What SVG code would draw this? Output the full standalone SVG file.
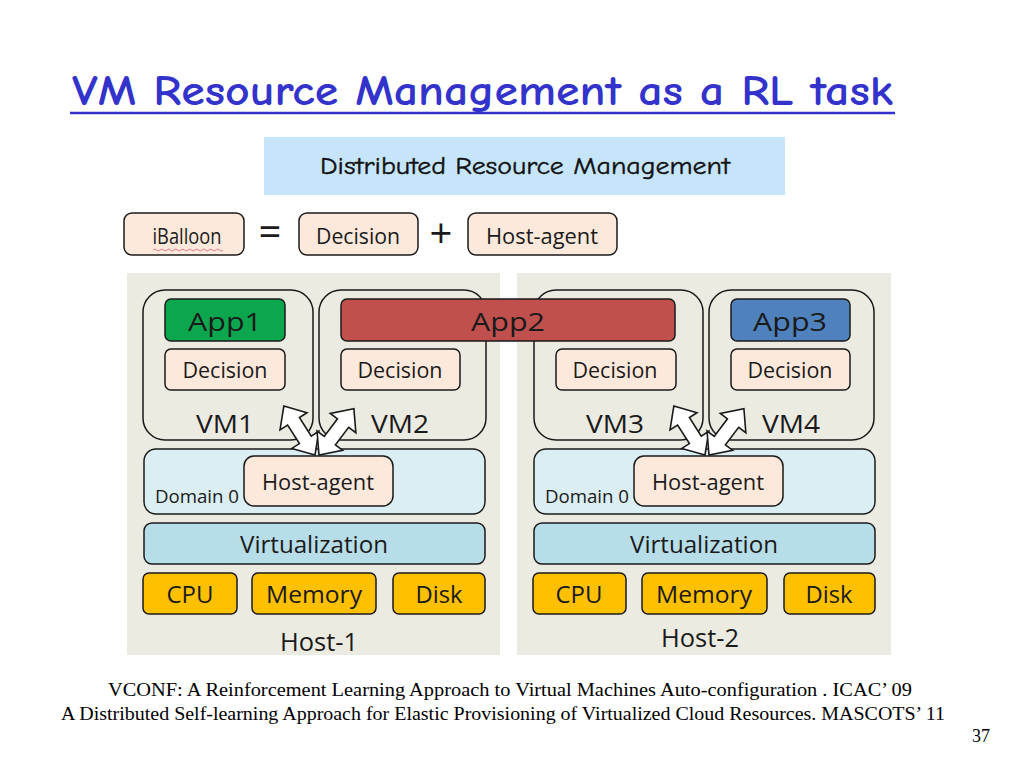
<svg xmlns="http://www.w3.org/2000/svg" width="1024" height="768" viewBox="0 0 1024 768">
<style>
.t{font-family:"Open Sans","Noto Sans","Liberation Sans",sans-serif;fill:#1a1a1a;text-anchor:middle}
.box{stroke:#1a1a1a;stroke-width:1.5}
.peach{fill:#fde9dc}
.vm{fill:none;stroke:#1a1a1a;stroke-width:1.5}
.host{fill:#ecebe2}
.dom{fill:#daeef3}
.virt{fill:#b7dde8}
.res{fill:#ffc000}
.arr{fill:#fff;stroke:#1a1a1a;stroke-width:1.6;stroke-linejoin:miter}
.ref{font-family:"Liberation Serif",serif;font-size:18px;fill:#000;text-anchor:middle}
</style>
<defs>
<path id="dbl" d="M0,0 L18,-16 L18,-7 L40,-7 L40,-16 L58,0 L40,16 L40,7 L18,7 L18,16 Z"/>
</defs>
<rect width="1024" height="768" fill="#fff"/>
<g id="title">
<text x="72" y="105" font-family="'Comic Neue','DejaVu Sans',sans-serif" font-size="43" font-weight="700" fill="#3333cc" textLength="821" lengthAdjust="spacingAndGlyphs">VM Resource Management as a RL task</text>
<line x1="70" y1="113" x2="895" y2="113" stroke="#3333cc" stroke-width="2.5"/>
</g>
<g id="drm">
<rect x="264" y="137" width="521" height="58" fill="#c6e5fb"/>
<text x="525" y="174" font-family="'Comic Neue','DejaVu Sans',sans-serif" font-size="24" fill="#111" stroke="#111" stroke-width="0.4" text-anchor="middle" textLength="410" lengthAdjust="spacingAndGlyphs">Distributed Resource Management</text>
</g>
<g id="legend">
<rect class="box peach" x="124" y="213" width="120" height="42" rx="8"/>
<text class="t" x="187" y="244" font-size="21" textLength="69" lengthAdjust="spacingAndGlyphs">iBalloon</text>
<path d="M153,250 q1.75,-2 3.5,0 t3.5,0 t3.5,0 t3.5,0 t3.5,0 t3.5,0 t3.5,0 t3.5,0 t3.5,0 t3.5,0 t3.5,0 t3.5,0 t3.5,0 t3.5,0 t3.5,0 t3.5,0 t3.5,0 t3.5,0 t3.5,0 t3.5,0" fill="none" stroke="#e06070" stroke-width="0.8"/>
<text class="t" x="270" y="246" font-size="40">=</text>
<rect class="box peach" x="299" y="213" width="119" height="42" rx="8"/>
<text class="t" x="358" y="244" font-size="21" textLength="84" lengthAdjust="spacingAndGlyphs">Decision</text>
<text class="t" x="441" y="248" font-size="40">+</text>
<rect class="box peach" x="468" y="213" width="149" height="42" rx="8"/>
<text class="t" x="542" y="244" font-size="21" textLength="112" lengthAdjust="spacingAndGlyphs">Host-agent</text>
</g>
<g id="host1">
<rect class="host" x="127" y="273" width="373" height="382"/>
<text class="t" x="319" y="651" font-size="26" textLength="78" lengthAdjust="spacingAndGlyphs">Host-1</text>
</g>
<g id="host2">
<rect class="host" x="517" y="273" width="374" height="382"/>
<text class="t" x="700" y="647" font-size="26" textLength="78" lengthAdjust="spacingAndGlyphs">Host-2</text>
</g>
<g id="vm1">
<rect class="vm" x="143" y="290" width="170" height="150" rx="22"/>
<text class="t" x="225" y="433" font-size="26" textLength="58" lengthAdjust="spacingAndGlyphs">VM1</text>
</g>
<g id="vm2">
<rect class="vm" x="319" y="290" width="167" height="150" rx="22"/>
<text class="t" x="400" y="433" font-size="26" textLength="58" lengthAdjust="spacingAndGlyphs">VM2</text>
</g>
<g id="vm3">
<rect class="vm" x="534" y="290" width="169" height="150" rx="22"/>
<text class="t" x="615" y="433" font-size="26" textLength="58" lengthAdjust="spacingAndGlyphs">VM3</text>
</g>
<g id="vm4">
<rect class="vm" x="709" y="290" width="165" height="150" rx="22"/>
<text class="t" x="791" y="433" font-size="26" textLength="58" lengthAdjust="spacingAndGlyphs">VM4</text>
</g>
<g id="app1">
<rect class="box" x="165" y="299" width="120" height="42" rx="6" fill="#0ca64e"/>
<text class="t" x="225" y="331" font-size="25" textLength="74" lengthAdjust="spacingAndGlyphs">App1</text>
</g>
<g id="app2">
<rect class="box" x="341" y="299" width="334" height="42" rx="6" fill="#c0504d"/>
<text class="t" x="508" y="331" font-size="25" textLength="74" lengthAdjust="spacingAndGlyphs">App2</text>
</g>
<g id="app3">
<rect class="box" x="731" y="299" width="119" height="42" rx="6" fill="#4f81bd"/>
<text class="t" x="790" y="331" font-size="25" textLength="74" lengthAdjust="spacingAndGlyphs">App3</text>
</g>
<g id="dec1">
<rect class="box peach" x="165" y="349" width="120" height="41" rx="6"/>
<text class="t" x="225" y="378" font-size="22" textLength="85" lengthAdjust="spacingAndGlyphs">Decision</text>
</g>
<g id="dec2">
<rect class="box peach" x="341" y="349" width="119" height="41" rx="6"/>
<text class="t" x="400" y="378" font-size="22" textLength="85" lengthAdjust="spacingAndGlyphs">Decision</text>
</g>
<g id="dec3">
<rect class="box peach" x="556" y="349" width="120" height="41" rx="6"/>
<text class="t" x="615" y="378" font-size="22" textLength="85" lengthAdjust="spacingAndGlyphs">Decision</text>
</g>
<g id="dec4">
<rect class="box peach" x="731" y="349" width="119" height="41" rx="6"/>
<text class="t" x="790" y="378" font-size="22" textLength="85" lengthAdjust="spacingAndGlyphs">Decision</text>
</g>
<g id="dom0-1">
<rect class="box dom" x="144" y="449" width="341" height="65" rx="12"/>
<text class="t" x="155" y="503" font-size="19" style="text-anchor:start" textLength="84" lengthAdjust="spacingAndGlyphs">Domain 0</text>
</g>
<g id="dom0-2">
<rect class="box dom" x="534" y="449" width="341" height="65" rx="12"/>
<text class="t" x="545" y="503" font-size="19" style="text-anchor:start" textLength="84" lengthAdjust="spacingAndGlyphs">Domain 0</text>
</g>
<g id="ha1">
<rect class="box peach" x="244" y="456" width="149" height="50" rx="10"/>
<text class="t" x="318" y="490" font-size="22" textLength="112" lengthAdjust="spacingAndGlyphs">Host-agent</text>
</g>
<g id="ha2">
<rect class="box peach" x="634" y="456" width="149" height="50" rx="10"/>
<text class="t" x="708" y="490" font-size="22" textLength="112" lengthAdjust="spacingAndGlyphs">Host-agent</text>
</g>
<g id="virt1">
<rect class="box virt" x="144" y="523" width="341" height="41" rx="8"/>
<text class="t" x="314" y="553" font-size="23" textLength="148" lengthAdjust="spacingAndGlyphs">Virtualization</text>
</g>
<g id="virt2">
<rect class="box virt" x="534" y="523" width="341" height="41" rx="8"/>
<text class="t" x="704" y="553" font-size="23" textLength="148" lengthAdjust="spacingAndGlyphs">Virtualization</text>
</g>
<g id="cpu1"><rect class="box res" x="143" y="573" width="94" height="41" rx="6"/><text class="t" x="190" y="603" font-size="24" textLength="47" lengthAdjust="spacingAndGlyphs">CPU</text></g>
<g id="mem1"><rect class="box res" x="252" y="573" width="124" height="41" rx="6"/><text class="t" x="314" y="603" font-size="24" textLength="96" lengthAdjust="spacingAndGlyphs">Memory</text></g>
<g id="disk1"><rect class="box res" x="393" y="573" width="92" height="41" rx="6"/><text class="t" x="439" y="603" font-size="24" textLength="47" lengthAdjust="spacingAndGlyphs">Disk</text></g>
<g id="cpu2"><rect class="box res" x="533" y="573" width="93" height="41" rx="6"/><text class="t" x="579" y="603" font-size="24" textLength="47" lengthAdjust="spacingAndGlyphs">CPU</text></g>
<g id="mem2"><rect class="box res" x="642" y="573" width="125" height="41" rx="6"/><text class="t" x="704" y="603" font-size="24" textLength="96" lengthAdjust="spacingAndGlyphs">Memory</text></g>
<g id="disk2"><rect class="box res" x="784" y="573" width="91" height="41" rx="6"/><text class="t" x="829" y="603" font-size="24" textLength="47" lengthAdjust="spacingAndGlyphs">Disk</text></g>
<g id="connectors">
<use href="#dbl" class="arr" transform="translate(315,455) rotate(-122.5)"/>
<use href="#dbl" class="arr" transform="translate(319,455) rotate(-53)"/>
<use href="#dbl" class="arr" transform="translate(705,455) rotate(-122.5)"/>
<use href="#dbl" class="arr" transform="translate(709,455) rotate(-53)"/>
</g>
<g id="refs">
<text class="ref" x="510" y="696" textLength="804" lengthAdjust="spacingAndGlyphs">VCONF: A Reinforcement Learning Approach to Virtual Machines Auto-configuration . ICAC’ 09</text>
<text class="ref" x="503" y="720" textLength="884" lengthAdjust="spacingAndGlyphs">A Distributed Self-learning Approach for Elastic Provisioning of Virtualized Cloud Resources. MASCOTS’ 11</text>
<text class="ref" x="981" y="742" font-size="17">37</text>
</g>
</svg>
